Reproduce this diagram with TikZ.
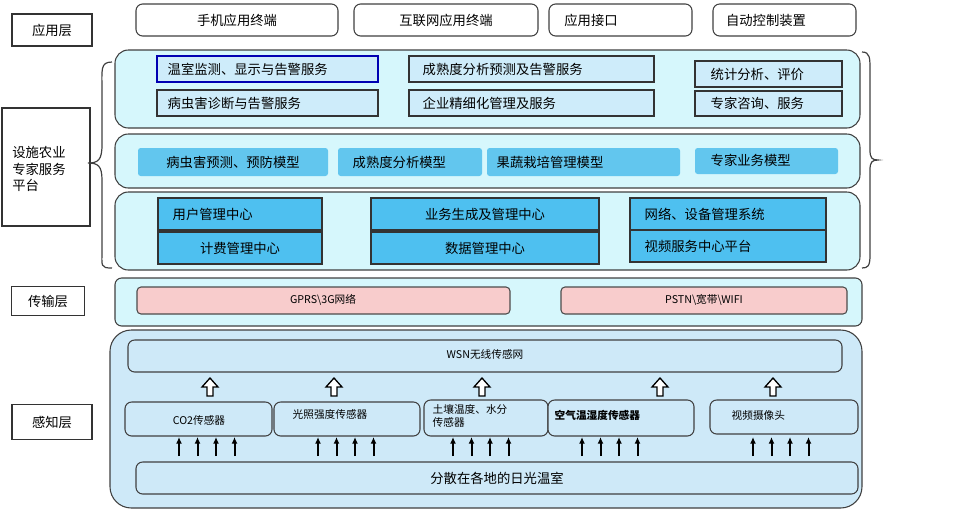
\documentclass[tikz,border=0pt]{standalone}
\usepackage{fontspec}
\usetikzlibrary{arrows.meta}
\setmainfont{Noto Sans CJK SC}
\definecolor{bandc}{RGB}{214,247,252}
\definecolor{svcc}{RGB}{206,236,250}
\definecolor{mdlc}{RGB}{98,198,238}
\definecolor{mgtc}{RGB}{78,192,240}
\definecolor{senc}{RGB}{206,233,248}
\definecolor{pinkc}{RGB}{248,204,204}
\begin{document}
\begin{tikzpicture}[x=0.75pt,y=-0.75pt,
 lab/.style={draw=black!80,line width=1pt,fill=white,font=\fontsize{10}{12}\selectfont},
 band/.style={draw=black!75,line width=0.8pt,rounded corners=10pt,fill=bandc},
 top/.style={draw=black!75,line width=0.8pt,rounded corners=5pt,fill=white,font=\fontsize{10}{12}\selectfont},
 svc/.style={draw=black!80,line width=0.8pt,fill=svcc},
 mdl/.style={fill=mdlc},
 mgt/.style={draw=black!80,line width=0.8pt,fill=mgtc},
 pink/.style={draw=black!70,line width=0.8pt,rounded corners=3pt,fill=pinkc},
 sen/.style={draw=black!75,line width=0.8pt,rounded corners=5pt,fill=senc},
 tx/.style={font=\fontsize{10}{12}\selectfont},
 sm/.style={font=\fontsize{8}{9.5}\selectfont},
 sarr/.style={-{Latex[length=5pt,width=4.5pt]},line width=1.5pt}]
\useasboundingbox (0,0) rectangle (964,512);
% application layer
\node[lab,minimum width=60pt,minimum height=24pt] (app) at (52,30) {应用层};
\draw[top] (136,4) rectangle (338,36); \node[tx] (t1) at (237,20) {手机应用终端};
\draw[top] (354,4) rectangle (538,36); \node[tx] (t2) at (446,20) {互联网应用终端};
\draw[top] (549,4) rectangle (692,36); \node[tx] (t3) at (591,20) {应用接口};
\draw[top] (713,4) rectangle (856,36); \node[tx] (t4) at (766,20) {自动控制装置};
% platform
\draw[band] (115,50) rectangle (860,128);
\draw[band] (115,134) rectangle (860,188);
\draw[band] (115,192) rectangle (860,270);
\draw[svc,draw=blue!70!black] (157,56) rectangle (378,82); \node[anchor=west,tx] (s1) at (163,69) {温室监测、显示与告警服务};
\draw[svc] (157,90) rectangle (378,116); \node[anchor=west,tx] (s2) at (163,103) {病虫害诊断与告警服务};
\draw[svc] (409,56) rectangle (654,82); \node[anchor=west,tx] (s3) at (418,69) {成熟度分析预测及告警服务};
\draw[svc] (409,90) rectangle (654,116); \node[anchor=west,tx] (s4) at (418,103) {企业精细化管理及服务};
\draw[svc] (695,61) rectangle (842,87); \node[anchor=west,tx] (s5) at (706,74) {统计分析、评价};
\draw[svc] (695,91) rectangle (842,116); \node[anchor=west,tx] (s6) at (706,103) {专家咨询、服务};
\fill[mdl,rounded corners=2pt] (138,148) rectangle (328,176); \node[tx] (m1) at (233,162) {病虫害预测、预防模型};
\fill[mdl,rounded corners=2pt] (338,148) rectangle (482,176); \node[anchor=west,tx] (m2) at (348,162) {成熟度分析模型};
\fill[mdl,rounded corners=2pt] (487,148) rectangle (680,176); \node[anchor=west,tx] (m3) at (492,162) {果蔬栽培管理模型};
\fill[mdl,rounded corners=2pt] (695,148) rectangle (838,174); \node[anchor=west,tx] (m4) at (706,160) {专家业务模型};
\draw[mgt] (158,198) rectangle (322,230); \node[anchor=west,tx] (g1) at (168,214) {用户管理中心};
\draw[mgt] (158,232) rectangle (322,264); \node[tx] (g2) at (240,248) {计费管理中心};
\draw[mgt] (371,198) rectangle (599,230); \node[tx] (g3) at (485,214) {业务生成及管理中心};
\draw[mgt] (371,232) rectangle (599,264); \node[tx] (g4) at (485,248) {数据管理中心};
\draw[mgt] (630,198) rectangle (826,230); \node[anchor=west,tx] (g5) at (640,214) {网络、设备管理系统};
\draw[mgt] (630,230) rectangle (826,262); \node[anchor=west,tx] (g6) at (640,246) {视频服务中心平台};
\draw[lab] (2,108) rectangle (90,226);
\node[anchor=north west,align=left,inner sep=0pt,font=\fontsize{10}{12.5}\selectfont] (plat) at (12,146) {设施农业\\专家服务\\平台};
\draw[line width=0.9pt,black!75] (112,62) .. controls (100,62) and (102,70) .. (102,90) -- (102,145) .. controls (102,160) and (98,163) .. (88,163) .. controls (98,163) and (102,166) .. (102,180) -- (102,250) .. controls (102,266) and (100,268) .. (112,268);
\draw[line width=0.9pt,black!75] (862,52) .. controls (870,52) and (870,58) .. (870,70) -- (870,150) .. controls (870,158) and (872,160) .. (878,160) .. controls (872,160) and (870,162) .. (870,170) -- (870,255) .. controls (870,266) and (868,268) .. (862,268);
% transmission
\node[lab,minimum width=55pt,minimum height=22pt] (trans) at (48,301) {传输层};
\draw[band,rounded corners=5pt] (115,278) rectangle (862,326);
\draw[pink] (137,287) rectangle (510,314); \node[sm] (p1) at (323,300) {GPRS\textbackslash 3G网络};
\draw[pink] (561,287) rectangle (847,314); \node[sm] (p2) at (704,300) {PSTN\textbackslash 宽带\textbackslash WIFI};
% sensing
\node[lab,minimum width=60pt,minimum height=26pt] (sense) at (52,422) {感知层};
\draw[band,fill=senc,rounded corners=16pt] (110,330) rectangle (862,508);
\draw[sen] (128,340) rectangle (842,372); \node[sm] (wsn) at (485,354) {WSN无线传感网};
\draw[sen] (125,402) rectangle (272,436); \node[sm] (c1) at (199,420) {CO2传感器};
\draw[sen] (274,402) rectangle (420,436); \node[anchor=west,sm] (c2) at (288,414) {光照强度传感器};
\draw[sen] (424,400) rectangle (548,436); \node[anchor=west,align=left,sm] (c3) at (428,416) {土壤温度、水分\\传感器};
\draw[sen] (548,400) rectangle (694,436); \node[anchor=west,font=\bfseries\fontsize{8}{9.5}\selectfont] (c4) at (550,415) {空气温湿度传感器};
\draw[sen] (710,400) rectangle (858,434); \node[anchor=west,sm] (c5) at (727,415) {视频摄像头};
\draw[sen] (136,462) rectangle (858,494); \node[tx] (gh) at (497,478) {分散在各地的日光温室};
\foreach \x in {210,334,482,660,773}{
 \draw[line width=1pt,fill=white] (\x-3,396) -- (\x-3,387) -- (\x-8,387) -- (\x,378) -- (\x+8,387) -- (\x+3,387) -- (\x+3,396) -- cycle;}
\foreach \x in {179,318,453,582,753}{
 \foreach \d in {0,18.5,37,55.5}{\draw[sarr] (\x+\d,456) -- (\x+\d,437);}}
\end{tikzpicture}
\end{document}
